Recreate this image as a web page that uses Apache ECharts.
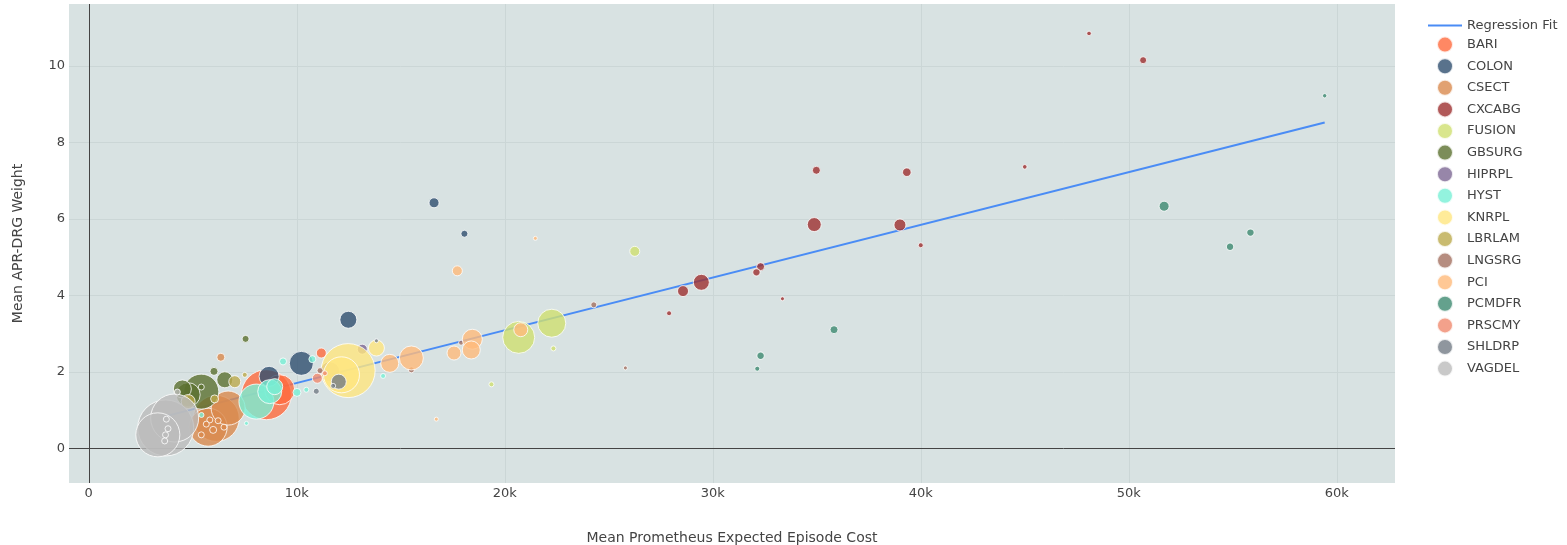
<!DOCTYPE html>
<html>
<head>
<meta charset="utf-8">
<script src="https://cdn.jsdelivr.net/npm/echarts@6/dist/echarts.min.js"></script>
<style>
    html, body {margin: 0; padding: 0; background: #fff;}
    #chart {width: 1567px; height: 545px;}
</style>
</head>
<body>
<div id="chart"></div>
<script>
// each point: [mean expected episode cost, mean APR-DRG weight, episodes]
const BARI = [[8540, 1.40, 10000], [9180, 1.53, 3600], [11180, 2.49, 400]];
const COLON = [[16600, 6.42, 400], [18060, 5.61, 196], [12480, 3.36, 1156], [10220, 2.22, 2304], [8670, 1.88, 1600]];
const CSECT = [[6130, 0.78, 8464], [5740, 0.55, 5776], [6700, 1.05, 4624], [6350, 2.38, 256],
    [5820, 0.74, 144], [6220, 0.72, 144], [5980, 0.48, 196], [5410, 0.35, 144], [5650, 0.63, 144], [6500, 0.55, 144]];
const CXCABG = [[34980, 7.27, 256], [39330, 7.22, 296], [34880, 5.85, 784], [39000, 5.84, 576], [40000, 5.31, 100],
    [32300, 4.75, 256], [32100, 4.60, 219], [29450, 4.34, 1024], [28570, 4.11, 484], [33350, 3.91, 64],
    [27900, 3.53, 100], [48090, 10.85, 85], [50690, 10.15, 196], [45000, 7.36, 85]];
const FUSION = [[26250, 5.15, 400], [22260, 3.27, 3136], [20670, 2.90, 4096], [22340, 2.61, 100], [19360, 1.67, 100]];
const GBSURG = [[5410, 1.48, 4900], [4780, 1.40, 2304], [4500, 1.55, 1296], [6020, 2.01, 256], [6540, 1.79, 1024],
    [7540, 2.86, 196], [5410, 1.60, 144]];
const HIPRPL = [[11590, 2.00, 1600], [13150, 2.59, 400]];
const HYST = [[8060, 1.22, 4900], [8700, 1.48, 2304], [8940, 1.61, 1024], [9340, 2.27, 196], [10010, 1.46, 256],
    [10460, 1.53, 100], [10750, 2.33, 196], [14150, 1.89, 100], [7580, 0.65, 64], [5420, 0.87, 100]];
const KNRPL = [[12470, 2.03, 11664], [12150, 1.92, 5184], [13830, 2.62, 1024]];
const LBRLAM = [[4780, 1.22, 784], [7020, 1.74, 576], [7500, 1.92, 100], [6050, 1.29, 256]];
const LNGSRG = [[24280, 3.75, 144], [25800, 2.10, 64], [15510, 2.05, 144], [17900, 2.76, 100], [11120, 2.03, 144]];
const PCI = [[17720, 4.64, 400], [21470, 5.49, 64], [20770, 3.10, 784], [18440, 2.85, 1600], [18390, 2.57, 1296],
    [17560, 2.49, 784], [14470, 2.22, 1296], [15510, 2.36, 2304], [16710, 0.76, 64]];
const PCMDFR = [[35830, 3.10, 256], [32300, 2.42, 219], [32140, 2.08, 100], [59420, 9.22, 77], [51700, 6.33, 400],
    [55850, 5.64, 219], [54870, 5.27, 219]];
const PRSCMY = [[10990, 1.83, 400], [11350, 1.96, 100]];
const SHLDRP = [[12020, 1.74, 900], [11750, 1.63, 100], [10940, 1.49, 144], [13830, 2.81, 64]];
const VAGDEL = [[3700, 0.53, 12544], [4130, 0.79, 9216], [3320, 0.35, 7744],
    [3730, 0.76, 144], [3810, 0.51, 144], [3690, 0.35, 144], [3650, 0.19, 144], [4260, 1.47, 144]];

const procedures = ['BARI', 'COLON', 'CSECT', 'CXCABG', 'FUSION', 'GBSURG', 'HIPRPL', 'HYST',
    'KNRPL', 'LBRLAM', 'LNGSRG', 'PCI', 'PCMDFR', 'PRSCMY', 'SHLDRP', 'VAGDEL'];
const points = [BARI, COLON, CSECT, CXCABG, FUSION, GBSURG, HIPRPL, HYST,
    KNRPL, LBRLAM, LNGSRG, PCI, PCMDFR, PRSCMY, SHLDRP, VAGDEL];
const fitLine = [[3570, 0.82], [59420, 8.52]];
const xTicks = [0, 10000, 20000, 30000, 40000, 50000, 60000];
const yTicks = [0, 2, 4, 6, 8, 10];

const palette = ['#ff6a3d', '#2f4f6f', '#da8a4e', '#9e3030', '#cfe070', '#5b7030', '#7d6894', '#78f0d6',
    '#ffe680', '#bcaa4c', '#a47060', '#ffba7a', '#3d8a70', '#f08a6e', '#737c86', '#bcbcbc'];
const font = 'DejaVu Sans';

const myChart = echarts.init(document.getElementById('chart'));

const gridStyle = {color: '#cbd6d6', width: 1, type: 'solid'};
const zeroStyle = {color: '#444', width: 1, type: 'solid'};

let series = [];
// gridlines + zero lines, kept under the bubbles
series.push({
    type: 'scatter',
    data: [],
    silent: true,
    z: 1,
    markLine: {
        silent: true,
        z: 1,
        symbol: 'none',
        label: {show: false},
        animation: false,
        data: xTicks.filter(v => v !== 0).map(v => ({xAxis: v, lineStyle: gridStyle}))
            .concat(yTicks.filter(v => v !== 0).map(v => ({yAxis: v, lineStyle: gridStyle})))
            .concat([{xAxis: 0, lineStyle: zeroStyle}, {yAxis: 0, lineStyle: zeroStyle}])
    }
});
series.push({
    name: 'Regression Fit',
    type: 'line',
    data: fitLine,
    showSymbol: false,
    z: 2,
    itemStyle: {color: '#4a8cf5'},
    lineStyle: {color: '#4a8cf5', width: 2},
    silent: true
});
procedures.forEach((name, i) => {
    series.push({
        name: name,
        type: 'scatter',
        data: points[i],
        z: 3,
        symbolSize: d => Math.sqrt(d[2]) / 2,
        itemStyle: {color: palette[i], opacity: 0.8, borderColor: '#fff', borderWidth: 1},
        emphasis: {disabled: true}
    });
});

let option = {
    animation: false,
    backgroundColor: '#fff',
    grid: {
        left: 69, right: 172, top: 4, bottom: 62,
        outerBoundsMode: 'none',
        containLabel: false,
        show: true, backgroundColor: '#d8e2e2', borderWidth: 0
    },
    legend: {
        orient: 'vertical',
        left: 1423,
        top: 14,
        itemWidth: 34,
        itemHeight: 16,
        itemGap: 3.6,
        textStyle: {color: '#444', fontSize: 13, fontFamily: font},
        data: [{name: 'Regression Fit', icon: 'path://M0,0H34V2H0Z'}]
            .concat(procedures.map(n => ({name: n, icon: 'circle'})))
    },
    xAxis: {
        type: 'value',
        min: -950,
        max: 62800,
        name: 'Mean Prometheus Expected Episode Cost',
        nameLocation: 'middle',
        nameGap: 48,
        nameTextStyle: {color: '#444', fontSize: 14, fontFamily: font},
        axisLine: {show: false},
        axisTick: {show: false},
        splitLine: {show: false},
        axisLabel: {
            customValues: xTicks,
            margin: 4,
            color: '#444',
            fontSize: 13,
            fontFamily: font,
            formatter: v => v === 0 ? '0' : (v / 1000) + 'k'
        }
    },
    yAxis: {
        type: 'value',
        min: -0.91,
        max: 11.62,
        name: 'Mean APR-DRG Weight',
        nameLocation: 'middle',
        nameGap: 44,
        nameTextStyle: {color: '#444', fontSize: 14, fontFamily: font},
        axisLine: {show: false},
        axisTick: {show: false},
        splitLine: {show: false},
        axisLabel: {
            customValues: yTicks,
            margin: 4,
            color: '#444',
            fontSize: 13,
            fontFamily: font
        }
    },
    series: series
};
myChart.setOption(option);
</script>
</body>
</html>
